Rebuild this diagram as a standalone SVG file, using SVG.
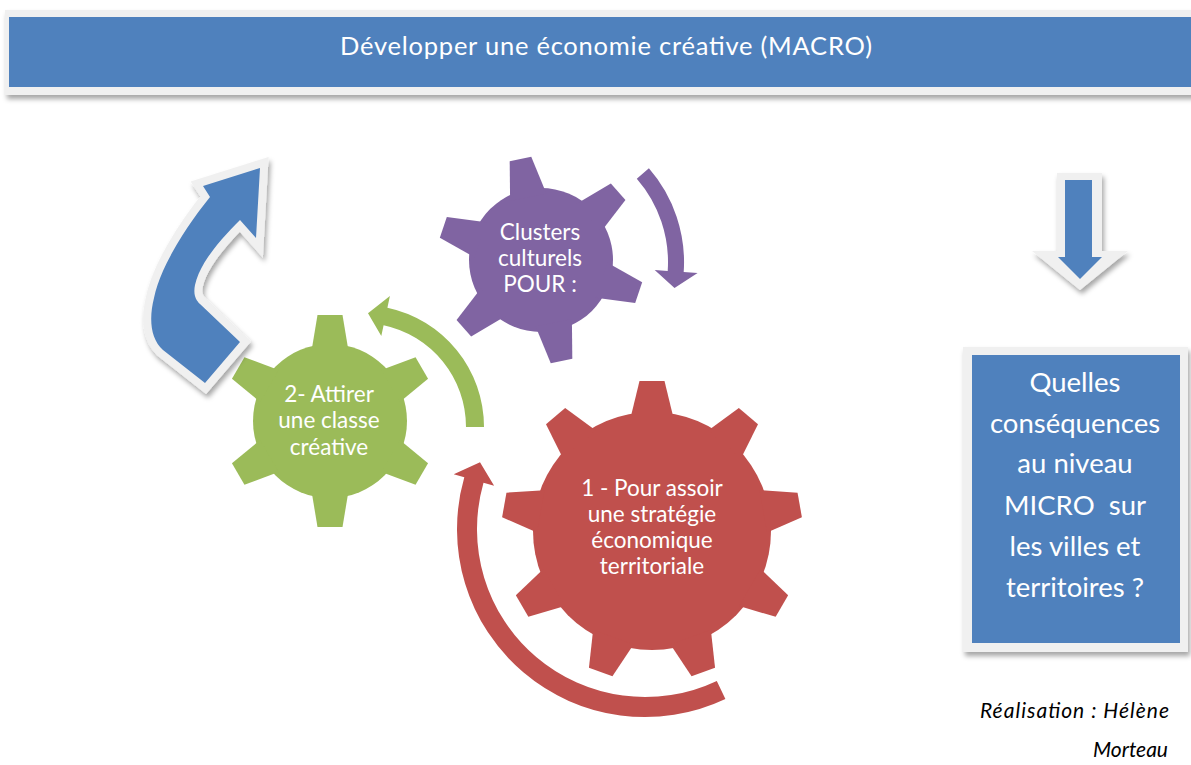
<svg xmlns="http://www.w3.org/2000/svg" width="1191" height="765" viewBox="0 0 1191 765">
<defs>
<filter id="sh" x="-20%" y="-20%" width="140%" height="140%">
<feDropShadow dx="2" dy="4" stdDeviation="2.5" flood-color="#000" flood-opacity="0.35"/>
</filter>
<style>
.frame{fill:#F0F0F0}
.blue{fill:#4F81BD}
.purple{fill:#8064A2}
.green{fill:#9BBB59}
.red{fill:#C0504D}
.t{font-family:Lato,"Open Sans","Liberation Sans",sans-serif;fill:#fff;text-anchor:middle}
.g{font-size:22.5px}
.q{font-size:27.5px}
.note{font-family:Lato,"Open Sans","Liberation Sans",sans-serif;font-style:italic;font-size:21px;fill:#000;text-anchor:end}
</style>
<polygon id="tp" points="-11,-103 11,-103 18.5,-64 -18.5,-64"/>
<polygon id="tg" points="-12.5,-106 12.5,-106 18.5,-70 -18.5,-70"/>
<polygon id="tr" points="-12.5,-150 12.5,-150 21.5,-113 -21.5,-113"/>
</defs>
<rect width="1191" height="765" fill="#fff"/>

<g id="banner">
<rect class="frame" x="5" y="10" width="1200" height="85" filter="url(#sh)"/>
<rect class="blue" x="9" y="17" width="1200" height="70"/>
<text class="t" x="606" y="55" font-size="25.5" textLength="532">Développer une économie créative (MACRO)</text>
</g>

<g id="connectors">
<path class="purple" d="M648.9,168.2 A143,143 0 0 1 683.7,272.0 L697.6,273.0 L674.5,287.9 L654.7,270.0 L667.7,270.9 A127,127 0 0 0 636.8,178.7 Z"/>
<path class="green" d="M484,427 A122,122 0 0 0 387.4,307.7 L389.9,295.9 L368,313.2 L381.3,336 L383.6,325.3 A104,104 0 0 1 466,427 Z"/>
<path class="red" d="M725.4,699 A188,188 0 0 1 464.3,477.2 L453.7,474.2 L480,462.3 L494.1,485.7 L483.5,482.7 A168,168 0 0 0 716.8,680.9 Z"/>
</g>

<g id="gear-clusters" class="purple">
<g transform="translate(541,260)">
<circle r="72"/>
<use href="#tp" transform="rotate(-11.5)"/>
<use href="#tp" transform="rotate(48.5)"/>
<use href="#tp" transform="rotate(108.5)"/>
<use href="#tp" transform="rotate(168.5)"/>
<use href="#tp" transform="rotate(228.5)"/>
<use href="#tp" transform="rotate(288.5)"/>
</g>
<text class="t g" x="540" y="240">Clusters</text>
<text class="t g" x="540" y="266">culturels</text>
<text class="t g" x="540" y="292">POUR :</text>
</g>

<g id="gear-attirer" class="green">
<g transform="translate(330,421)">
<circle r="77"/>
<use href="#tg"/>
<use href="#tg" transform="rotate(60)"/>
<use href="#tg" transform="rotate(120)"/>
<use href="#tg" transform="rotate(180)"/>
<use href="#tg" transform="rotate(240)"/>
<use href="#tg" transform="rotate(300)"/>
</g>
<text class="t g" x="329" y="402">2- Attirer</text>
<text class="t g" x="329" y="428">une classe</text>
<text class="t g" x="329" y="455">créative</text>
</g>

<g id="gear-strategie" class="red">
<g transform="translate(652,531)">
<circle r="119"/>
<use href="#tr"/>
<use href="#tr" transform="rotate(40)"/>
<use href="#tr" transform="rotate(80)"/>
<use href="#tr" transform="rotate(120)"/>
<use href="#tr" transform="rotate(160)"/>
<use href="#tr" transform="rotate(200)"/>
<use href="#tr" transform="rotate(240)"/>
<use href="#tr" transform="rotate(280)"/>
<use href="#tr" transform="rotate(320)"/>
</g>
<text class="t g" x="652" y="496">1 - Pour assoir</text>
<text class="t g" x="652" y="522">une stratégie</text>
<text class="t g" x="652" y="548">économique</text>
<text class="t g" x="652" y="574">territoriale</text>
</g>

<g id="arrow-up">
<path d="M260,168 L256,238 L240,220 C222,238 200,262 195,285 C193,295 196,300 200,304 L240,342 L205,383 L163,350 C150,338 149,318 154,298 C160,268 185,228 210,197 L203,186 Z" fill="#4F81BD" stroke="#F0F0F0" stroke-width="16" stroke-linejoin="miter" stroke-miterlimit="3" paint-order="stroke fill" filter="url(#sh)"/>
</g>

<g id="arrow-down">
<polygon class="frame" points="1057,173 1102,173 1102,251 1128,251 1080,290 1032,251 1057,251" filter="url(#sh)"/>
<polygon class="blue" points="1065,180 1092,180 1092,257 1102,257 1080,279 1058,257 1065,257"/>
</g>

<g id="question">
<rect class="frame" x="963" y="347" width="225" height="305" filter="url(#sh)"/>
<rect class="blue" x="972" y="355" width="208" height="288"/>
<text class="t q" x="1075" y="392">Quelles</text>
<text class="t q" x="1075" y="433">conséquences</text>
<text class="t q" x="1075" y="473">au niveau</text>
<text class="t q" x="1075" y="515" xml:space="preserve">MICRO  sur</text>
<text class="t q" x="1075" y="556">les villes et</text>
<text class="t q" x="1075" y="597">territoires ?</text>
</g>

<g id="credit">
<text class="note" x="1169" y="718" textLength="189">Réalisation : Hélène</text>
<text class="note" x="1168" y="757">Morteau</text>
</g>
</svg>
